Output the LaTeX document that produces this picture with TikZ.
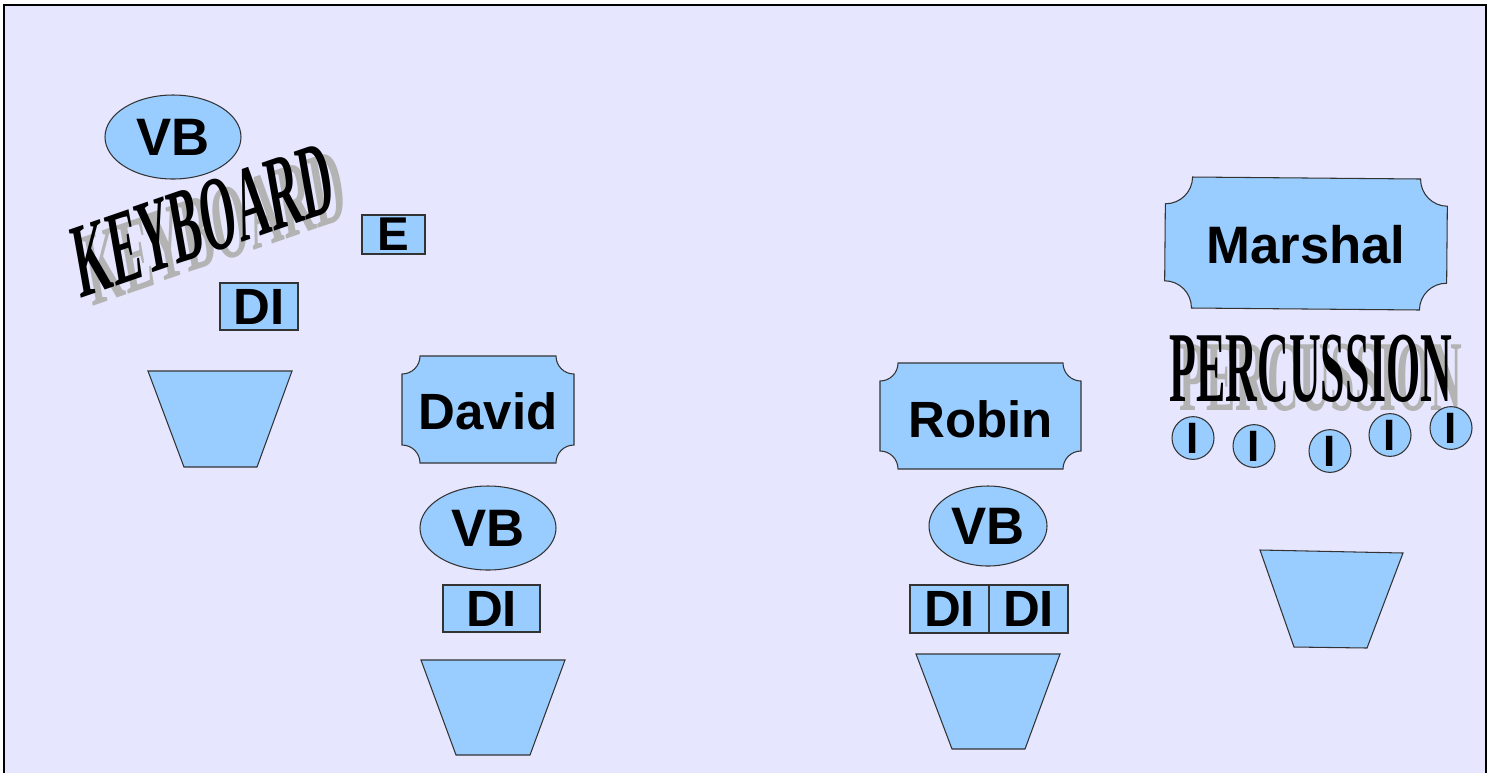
\documentclass[tikz,border=0pt]{standalone}
\usepackage{fontspec}
\setmainfont{Liberation Sans}
\newfontfamily\artfont{Liberation Serif}
\usetikzlibrary{shapes.geometric}
\definecolor{stagebg}{HTML}{E6E6FF}
\definecolor{gearblue}{HTML}{99CCFF}
\definecolor{shadowgrey}{HTML}{B3B3B3}
\newcommand{\px}{0.02cm}
% stage plaque with concave corners: x0 y0 x1 y1 r
\newcommand{\plaque}[5]{\draw[gear] (#1+#5,#2) -- (#3-#5,#2) arc[start angle=180,end angle=90,radius=#5] -- (#3,#4-#5) arc[start angle=270,end angle=180,radius=#5] -- (#1+#5,#4) arc[start angle=0,end angle=-90,radius=#5] -- (#1,#2+#5) arc[start angle=90,end angle=0,radius=#5] -- cycle;}
\tikzset{
  gear/.style={fill=gearblue,draw=black!80,line width=0.6pt},
  tag/.style={font=\fontsize{29}{29}\selectfont\bfseries,inner sep=0pt},
  dibox/.style={gear,rectangle,tag,minimum width=78*\px,minimum height=47*\px},
  vbell/.style={gear,ellipse,tag,font=\fontsize{30}{30}\selectfont\bfseries},
  drum/.style={gear,ellipse,inner sep=0pt,minimum width=42*\px,minimum height=38*\px,font=\fontsize{25}{25}\selectfont\bfseries},
  wordart/.style={font=\artfont\bfseries\fontsize{60}{60}\selectfont,inner sep=0pt},
  slantword/.style={wordart,cm={0.946,0.326,-0.174,0.985,(0,0)},xscale=0.445},
  archword/.style={wordart,font=\artfont\bfseries\fontsize{51}{51}\selectfont,xscale=0.49,yscale=1.12},
}
\begin{document}
\begin{tikzpicture}[x=0.02cm,y=-0.02cm]
\useasboundingbox (0,0) rectangle (1494,772);
\clip (0,0) rectangle (1494,772);
\fill[white] (0,0) rectangle (1494,772);
\draw[fill=stagebg,draw=black,line width=0.8pt] (4,5) rectangle (1486,800);

% keyboard corner
\node[vbell,minimum width=136*\px,minimum height=84*\px] (kbvb) at (173,137) {VB};
\node[slantword,text=shadowgrey] (kbshadow) at (215,228) {KEYBOARD};
\node[slantword] (keyboard) at (203,220) {KEYBOARD};
\node[dibox,minimum width=63*\px,minimum height=39*\px,font=\fontsize{27}{27}\selectfont\bfseries] (kbe) at (393.5,234.5) {E};
\node[dibox] (kbdi) at (259,306.5) {DI};
\draw[gear] (148,371) -- (292,371) -- (257,467) -- (184,467) -- cycle;

% david
\plaque{402}{356}{574}{463}{18}
\node[tag] (david) at (488,411) {David};
\node[vbell,minimum width=136*\px,minimum height=84*\px] (davvb) at (488,528) {VB};
\node[dibox,minimum width=97*\px] (davdi) at (491.5,608.5) {DI};
\draw[gear] (421,660) -- (565,660) -- (530,755) -- (456,755) -- cycle;

% robin
\plaque{880}{363}{1081}{469}{18}
\node[tag] (robin) at (980.5,419) {Robin};
\node[vbell,minimum width=118*\px,minimum height=80*\px] (robvb) at (988,526) {VB};
\node[dibox,minimum width=79*\px,minimum height=48*\px] (robdia) at (949.5,609) {DI};
\node[dibox,minimum width=79*\px,minimum height=48*\px] (robdib) at (1028.5,609) {DI};
\draw[gear] (916,654) -- (1060,654) -- (1025,749) -- (952,749) -- cycle;

% marshal and percussion
\begin{scope}[rotate around={-0.5:(1306,243)}]
\plaque{1165}{178}{1447}{309}{27}
\end{scope}
\node[tag,font=\fontsize{30}{30}\selectfont\bfseries] (marshal) at (1306,245) {Marshal};
\node[archword,text=shadowgrey] (pcshadow) at (1321,378) {PERCUSSION};
\node[archword] (percussion) at (1311,369) {PERCUSSION};
\node[drum] (drum1) at (1193,438) {I};
\node[drum] (drum2) at (1254,446) {I};
\node[drum] (drum3) at (1330,451) {I};
\node[drum] (drum4) at (1390,435) {I};
\node[drum] (drum5) at (1451,428) {I};
\draw[gear] (1260,550) -- (1403,553) -- (1367,648) -- (1294,647) -- cycle;

\end{tikzpicture}
\end{document}
